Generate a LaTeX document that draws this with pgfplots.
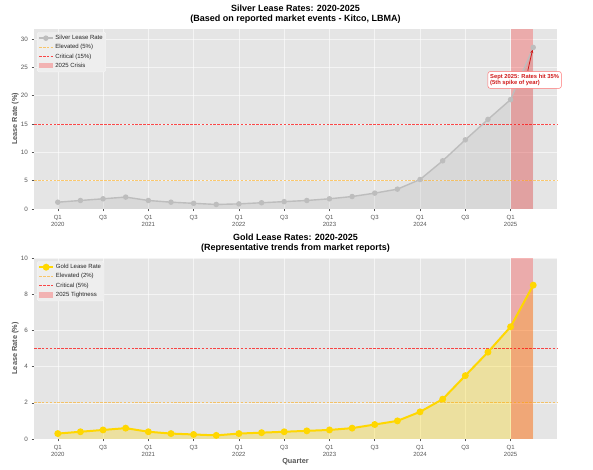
\documentclass[border=0pt]{standalone}
\usepackage{pgfplots}
\usepackage{pgfplotstable}
\pgfplotsset{compat=1.18}
\usepackage{fontspec}
\setmainfont{Liberation Sans}
\usetikzlibrary{arrows.meta}

\definecolor{panelbg}{HTML}{E5E5E5}
\definecolor{silverc}{HTML}{BDBDBD}
\definecolor{goldc}{HTML}{FFD700}
\definecolor{tickgray}{HTML}{555555}
\definecolor{elev}{HTML}{FFA500}
\definecolor{crit}{HTML}{FF0000}
\definecolor{notec}{HTML}{D01A1A}
\definecolor{legtext}{HTML}{262626}

% quarterly lease rates, index 0 = Q1 2020
\pgfplotstableread{
q rate
0 1.2
1 1.5
2 1.8
3 2.1
4 1.5
5 1.2
6 1.0
7 0.8
8 0.9
9 1.1
10 1.3
11 1.5
12 1.8
13 2.2
14 2.8
15 3.5
16 5.2
17 8.5
18 12.2
19 15.8
20 19.3
21 28.5
}\silverdata

\pgfplotstableread{
q rate
0 0.3
1 0.4
2 0.5
3 0.6
4 0.4
5 0.3
6 0.25
7 0.2
8 0.3
9 0.35
10 0.4
11 0.45
12 0.5
13 0.6
14 0.8
15 1.0
16 1.5
17 2.2
18 3.5
19 4.8
20 6.2
21 8.5
}\golddata

\pgfplotsset{
  every axis title shift=0pt,
  leaseaxis/.style={
    scale only axis, width=523pt, clip=false,
    xmin=-1.05, xmax=22.05, ymin=0,
    axis background/.style={fill=panelbg},
    axis line style={draw=none},
    grid=major, major grid style={white, opacity=0.6, line width=0.5pt},
    tick align=outside, xtick pos=lower, ytick pos=left,
    major tick length=2.5pt,
    tick style={tickgray, line width=0.5pt},
    xtick={0,2,...,20},
    xticklabels={{Q1\\2020},Q3,{Q1\\2021},Q3,{Q1\\2022},Q3,{Q1\\2023},Q3,{Q1\\2024},Q3,{Q1\\2025}},
    xticklabel style={align=center, font=\fontsize{6}{7.2}\selectfont, text=tickgray},
    yticklabel style={font=\fontsize{6.3}{7}\selectfont, text=tickgray},
    /pgf/number format/assume math mode=true,
    ylabel={Lease Rate (\%)},
    ylabel style={at={(axis description cs:-0.036,0.5)}, anchor=center,
      font=\bfseries\fontsize{7.3}{8}\selectfont, text=tickgray},
    title style={align=center, at={(0.5,1)}, anchor=south, yshift=2.5pt,
      font=\bfseries\fontsize{9}{9.4}\selectfont},
    legend cell align=left,
    legend style={at={(0.006,0.983)}, anchor=north west,
      fill=white!35!panelbg, draw=white!60!panelbg, rounded corners=1.5pt,
      font=\fontsize{6}{7}\selectfont,
      inner sep=1pt, row sep=-0.6pt,
      nodes={text=legtext}},
    legend image code/.code={%
      \draw[sharp corners, mark repeat=2, mark phase=2, #1]
        plot coordinates {(0cm,0cm) (0.24cm,0cm) (0.48cm,0cm)};},
  },
  elevline/.style={draw=elev, draw opacity=0.55, line width=0.7pt, dash pattern=on 2.6pt off 1.3pt},
  critline/.style={draw=crit, draw opacity=0.7, line width=0.7pt, dash pattern=on 2.6pt off 1.3pt},
  spanentry/.style={legend image code/.code={%
      \path[sharp corners, draw=none, fill=red, fill opacity=0.25]
        (0cm,-0.09cm) rectangle (0.48cm,0.09cm);}},
}

\begin{document}
\begin{tikzpicture}
\useasboundingbox (0,0) rectangle (593pt,470pt);

% ---------------- silver ----------------
\begin{axis}[leaseaxis, at={(34pt,261pt)}, anchor=south west,
  height=180pt, ymax=31.75, ytick={0,5,...,30},
  title={Silver Lease Rates: 2020-2025\\(Based on reported market events - Kitco, LBMA)}]
  \addlegendimage{silverc, line width=1.4pt, mark=*, mark size=2pt}
  \addlegendentry{Silver Lease Rate}
  \addlegendimage{elevline}
  \addlegendentry{Elevated (5\%)}
  \addlegendimage{critline}
  \addlegendentry{Critical (15\%)}
  \addlegendimage{spanentry}
  \addlegendentry{2025 Crisis}

  \addplot[fill=silverc, fill opacity=0.3, draw=none, forget plot]
    table[x=q, y=rate]{\silverdata} \closedcycle;
  \addplot[fill=red, fill opacity=0.25, draw=none, forget plot]
    coordinates {(20,31.75) (21,31.75)} \closedcycle;
  \addplot[elevline, forget plot] coordinates {(-1.05,5) (22.05,5)};
  \addplot[critline, forget plot] coordinates {(-1.05,15) (22.05,15)};
  \addplot[silverc, line width=1.4pt, mark=*, mark size=2pt, forget plot]
    table[x=q, y=rate]{\silverdata};

  \draw[notec, line width=0.8pt, -{Stealth[length=3.5pt, width=3pt]}]
    (axis cs:20.76,24.4) -- (axis cs:20.97,28.1);
  \node[draw=red!55, fill=white, rounded corners=2pt, line width=0.5pt,
    text=notec, font=\bfseries\fontsize{5.8}{6.8}\selectfont, align=left,
    inner sep=2.2pt] at (axis cs:20.62,22.76)
    {Sept 2025: Rates hit 35\%\\(5th spike of year)};
\end{axis}

% ---------------- gold ----------------
\begin{axis}[leaseaxis, at={(34pt,31pt)}, anchor=south west,
  height=181pt, ymax=10, ytick={0,2,...,10},
  title={Gold Lease Rates: 2020-2025\\(Representative trends from market reports)},
  xlabel={Quarter},
  xlabel style={at={(axis description cs:0.5,-0.127)}, anchor=center,
    font=\bfseries\fontsize{7.3}{8}\selectfont, text=tickgray}]
  \addlegendimage{goldc, line width=2pt, mark=*, mark size=2.4pt}
  \addlegendentry{Gold Lease Rate}
  \addlegendimage{elevline}
  \addlegendentry{Elevated (2\%)}
  \addlegendimage{critline}
  \addlegendentry{Critical (5\%)}
  \addlegendimage{spanentry}
  \addlegendentry{2025 Tightness}

  \addplot[fill=goldc, fill opacity=0.3, draw=none, forget plot]
    table[x=q, y=rate]{\golddata} \closedcycle;
  \addplot[fill=red, fill opacity=0.25, draw=none, forget plot]
    coordinates {(20,10) (21,10)} \closedcycle;
  \addplot[elevline, forget plot] coordinates {(-1.05,2) (22.05,2)};
  \addplot[critline, forget plot] coordinates {(-1.05,5) (22.05,5)};
  \addplot[goldc, line width=2pt, mark=*, mark size=2.4pt, forget plot]
    table[x=q, y=rate]{\golddata};
\end{axis}
\end{tikzpicture}
\end{document}
